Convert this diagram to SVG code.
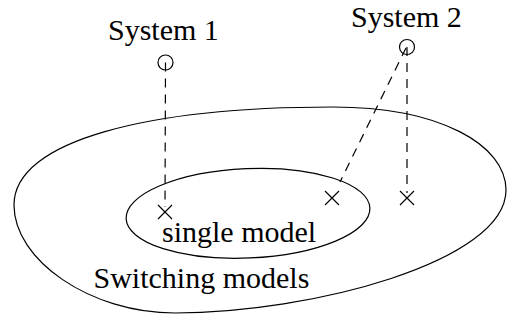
<svg xmlns="http://www.w3.org/2000/svg" width="507" height="320" viewBox="0 0 507 320">
<style>
.t{font-family:"Liberation Serif","Times New Roman",serif;font-size:30px;fill:#000}
.s{fill:none;stroke:#000;stroke-width:1.2}
.d{fill:none;stroke:#000;stroke-width:1.2;stroke-dasharray:9 7}
</style>
<rect width="507" height="320" fill="#fff"/>
<g id="switching-models">
<path class="s" d="M333,107 C440,107 506,145 506,190 C506,262 310,313 175,313 C90,313 14,260 14,205 C14,140 150,107 333,107 Z"/>
<text class="t" x="93.5" y="288">Switching models</text>
</g>
<g id="single-model">
<ellipse class="s" cx="248" cy="213.3" rx="122" ry="44.7" transform="rotate(-2.5 248 213.3)"/>
<text class="t" x="162" y="242">single model</text>
</g>
<g id="system1">
<text class="t" x="108" y="40">System 1</text>
<circle class="s" cx="165.5" cy="62.5" r="7.5"/>
</g>
<g id="system2">
<text class="t" x="351" y="27">System 2</text>
<circle class="s" cx="407" cy="47" r="7.5"/>
</g>
<g id="x1"><path class="s" d="M158,205 L172,219 M172,205 L158,219"/></g>
<g id="x2"><path class="s" d="M325,191 L339,205 M339,191 L325,205"/></g>
<g id="x3"><path class="s" d="M400,191 L414,205 M414,191 L400,205"/></g>
<g id="connectors">
<line class="d" x1="165.5" y1="62.5" x2="165" y2="207"/>
<line class="d" x1="407" y1="47" x2="407" y2="193"/>
<line class="d" x1="406" y1="48" x2="340" y2="182"/>
</g>
</svg>
